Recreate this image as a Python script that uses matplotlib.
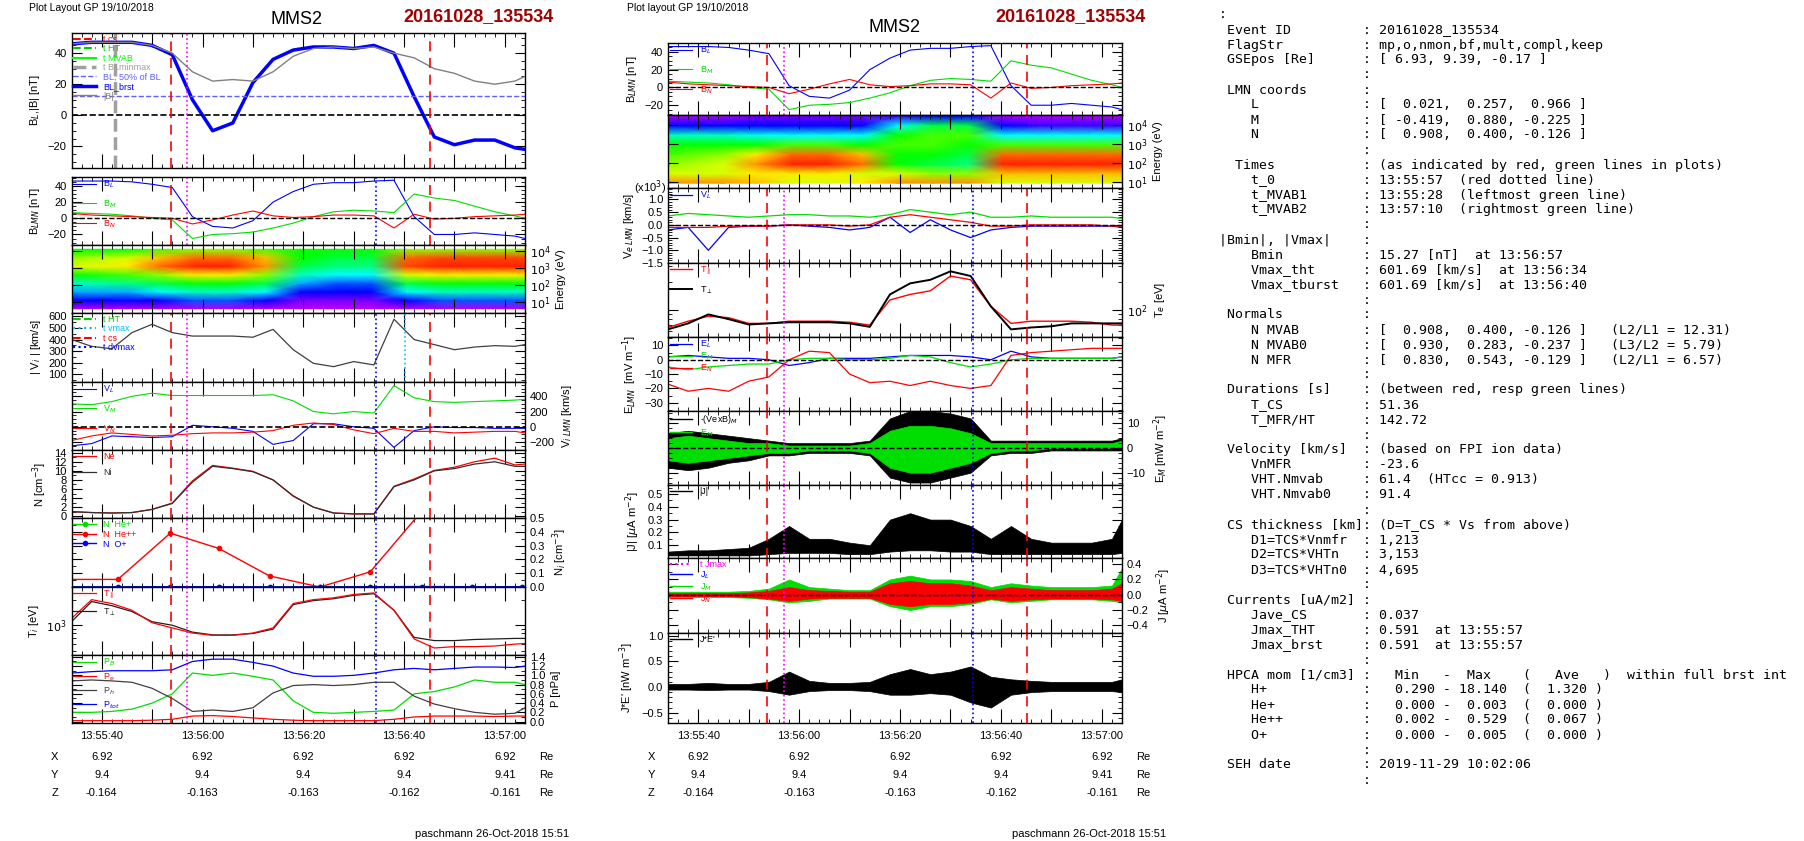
import matplotlib
matplotlib.use("Agg")
import matplotlib.pyplot as plt
import numpy as np
from matplotlib.colors import LinearSegmentedColormap
from matplotlib.lines import Line2D
from matplotlib.ticker import FixedLocator, MultipleLocator, FuncFormatter, NullFormatter

plt.rcParams["font.family"] = ["Liberation Sans", "DejaVu Sans"]
plt.rcParams["font.size"] = 8
plt.rcParams["axes.linewidth"] = 1.0

W, H = 1804, 841

# ---------------- data (seconds after 13:55:00) ----------------
T = [34, 38, 42, 46, 50, 54, 58, 62, 66, 70, 74, 78, 82, 86, 90, 94, 98, 102, 106, 110, 114, 118, 122, 124]

BL_fit = [46, 47, 47, 47, 45, 39, 10, -10, -5, 21, 36, 42, 44, 44, 43, 45, 40, 12, -14, -19, -16, -16, -21, -22]
B_tot = [46, 47, 47, 47, 45, 40, 28, 22, 23, 22, 28, 38, 43, 44, 43, 44, 40, 37, 30, 27, 22, 20, 22, 25]

BL = [46, 46, 46, 45, 42, 38, 2, -10, -12, -3, 20, 33, 42, 44, 44, 46, 47, 2, -20, -20, -18, -20, -22, -25]
BM = [7, 6, 5, 3, 0, -2, -25, -20, -19, -17, -12, -6, 2, 8, 10, 9, 7, 30, 25, 22, 15, 8, 3, 0]
BN = [6, 4, 3, 2, 1, 0, -7, -2, 4, 9, 3, 1, 2, 4, 4, 3, -12, 5, -1, 0, 2, 3, 4, 5]

Vi_abs = [400, 341, 320, 460, 532, 460, 430, 430, 430, 420, 488, 312, 194, 165, 209, 180, 576, 400, 356, 312, 335, 347, 341, 356]
ViL = [-250, -220, -120, -130, -140, -130, 20, 0, -20, -60, -230, -180, 40, 40, 0, -20, -270, -50, 0, -10, -10, -20, -20, -20]
ViM = [300, 290, 330, 400, 440, 410, 410, 410, 410, 410, 420, 340, 200, 170, 200, 180, 540, 380, 330, 320, 330, 340, 350, 360]
ViN = [-180, -120, -80, -100, -120, -110, -90, -80, -80, -70, -50, 20, 50, 30, -40, -90, -20, -60, -60, -80, -70, -60, -60, -80]

Ne = [1.0, 0.8, 0.7, 0.8, 1.5, 2.9, 7.8, 11.2, 10.6, 9.9, 8.0, 4.4, 2.0, 0.7, 0.5, 0.5, 6.6, 8.2, 10.1, 10.8, 12.0, 12.8, 11.3, 11.5]
Ni = [1.0, 0.8, 0.7, 0.8, 1.5, 2.8, 7.5, 11.0, 10.5, 9.8, 8.0, 4.5, 2.0, 0.7, 0.5, 0.5, 6.5, 8.0, 10.0, 10.5, 11.5, 12.0, 11.0, 11.0]

hpca_t = [33.7, 43.2, 53.6, 63.2, 73.3, 83.3, 93.3, 103.5, 113.5, 123.5]
n_hepp = [0.055, 0.055, 0.39, 0.28, 0.08, 0.0, 0.11, 0.55, 0.9, 1.0]
n_hep = [0.002, 0.002, 0.002, 0.002, 0.001, 0.001, 0.002, 0.003, 0.002, 0.002]
n_op = [0.001, 0.001, 0.002, 0.002, 0.001, 0.001, 0.002, 0.003, 0.002, 0.002]

Ti_par = [1200, 2000, 1800, 1500, 1070, 930, 810, 760, 760, 810, 930, 1800, 2000, 2100, 2300, 2400, 1500, 690, 540, 560, 560, 570, 600, 610]
Ti_perp = [1100, 1900, 1700, 1450, 1100, 1000, 830, 770, 770, 800, 900, 1750, 1950, 2050, 2250, 2350, 1500, 720, 660, 660, 680, 690, 700, 700]

P_B = [0.2, 0.2, 0.22, 0.27, 0.4, 0.6, 1.05, 1.0, 1.05, 0.98, 0.9, 0.45, 0.2, 0.18, 0.2, 0.22, 0.25, 0.6, 0.65, 0.75, 0.9, 0.85, 0.85, 0.8]
P_e = [0.02, 0.02, 0.02, 0.02, 0.03, 0.05, 0.12, 0.13, 0.11, 0.08, 0.05, 0.03, 0.02, 0.02, 0.02, 0.02, 0.05, 0.1, 0.12, 0.12, 0.12, 0.11, 0.12, 0.12]
P_h = [0.88, 0.9, 0.88, 0.85, 0.72, 0.5, 0.22, 0.25, 0.22, 0.3, 0.62, 0.78, 0.8, 0.78, 0.8, 0.85, 0.85, 0.55, 0.38, 0.28, 0.2, 0.16, 0.18, 0.3]
P_tot = [1.05, 1.08, 1.1, 1.1, 1.1, 1.12, 1.3, 1.35, 1.35, 1.28, 1.2, 1.05, 0.98, 0.98, 1.0, 1.05, 1.12, 1.15, 1.12, 1.15, 1.18, 1.18, 1.17, 1.2]

spec_t = [34, 45, 51.5, 58.5, 65.5, 72.5, 79.5, 86.5, 93.5, 100.5, 107.5, 114.5, 124]
ion_logE = [0.6, 1.1, 1.6, 2.1, 2.6, 3.1, 3.6, 4.1]
ion_spec = [
    [0.05, 0.05, 0.05, 0.05, 0.05, 0.05, 0.04, 0.04, 0.04, 0.05, 0.05, 0.05, 0.05],
    [0.15, 0.15, 0.15, 0.2, 0.2, 0.15, 0.08, 0.08, 0.08, 0.15, 0.2, 0.2, 0.2],
    [0.25, 0.25, 0.3, 0.35, 0.35, 0.3, 0.15, 0.15, 0.15, 0.3, 0.35, 0.35, 0.35],
    [0.35, 0.4, 0.45, 0.5, 0.5, 0.45, 0.25, 0.2, 0.2, 0.45, 0.5, 0.5, 0.5],
    [0.5, 0.55, 0.6, 0.7, 0.7, 0.6, 0.35, 0.3, 0.3, 0.65, 0.7, 0.7, 0.7],
    [0.65, 0.7, 0.85, 0.95, 0.95, 0.8, 0.45, 0.4, 0.4, 0.9, 0.95, 0.95, 0.95],
    [0.6, 0.65, 0.75, 0.85, 0.85, 0.75, 0.5, 0.45, 0.45, 0.85, 0.9, 0.9, 0.9],
    [0.5, 0.5, 0.55, 0.6, 0.6, 0.55, 0.5, 0.5, 0.5, 0.6, 0.6, 0.6, 0.6],
]
ele_logE = [0.95, 1.45, 1.95, 2.45, 2.95, 3.45, 3.95, 4.45]
ele_spec = [
    [0.8, 0.8, 0.75, 0.65, 0.65, 0.7, 0.8, 0.8, 0.8, 0.65, 0.65, 0.65, 0.65],
    [0.65, 0.65, 0.7, 0.7, 0.7, 0.65, 0.65, 0.6, 0.6, 0.75, 0.75, 0.75, 0.75],
    [0.6, 0.65, 0.8, 0.95, 0.95, 0.85, 0.5, 0.45, 0.4, 0.95, 0.95, 0.95, 0.95],
    [0.55, 0.6, 0.7, 0.85, 0.85, 0.75, 0.5, 0.5, 0.45, 0.85, 0.85, 0.85, 0.85],
    [0.5, 0.5, 0.5, 0.55, 0.55, 0.5, 0.55, 0.55, 0.5, 0.55, 0.55, 0.55, 0.55],
    [0.35, 0.35, 0.32, 0.3, 0.3, 0.3, 0.5, 0.55, 0.55, 0.3, 0.3, 0.3, 0.3],
    [0.15, 0.15, 0.15, 0.15, 0.15, 0.15, 0.3, 0.45, 0.45, 0.15, 0.12, 0.12, 0.12],
    [0.05, 0.05, 0.08, 0.08, 0.08, 0.08, 0.12, 0.15, 0.15, 0.05, 0.05, 0.05, 0.05],
]

VeL = [-0.2, -0.1, -1.0, -0.1, -0.05, -0.05, 0, -0.05, -0.1, -0.2, -0.1, 0.3, -0.3, 0.2, -0.2, -0.5, -0.2, -0.1, -0.05, -0.05, -0.05, -0.05, -0.05, -0.1]
VeM = [0.35, 0.45, 0.4, 0.35, 0.3, 0.35, 0.4, 0.4, 0.35, 0.35, 0.3, 0.4, 0.6, 0.5, 0.4, 0.5, 0.3, 0.3, 0.35, 0.3, 0.3, 0.3, 0.3, 0.25]
VeN = [-0.1, -0.1, -0.1, -0.05, -0.05, -0.05, 0, 0, 0, -0.05, 0, 0.3, 0.4, 0.3, 0.2, 0.1, -0.05, -0.05, 0, 0, 0, 0, -0.05, -0.05]

Te_par = [65, 76, 86, 83, 72, 72, 76, 76, 76, 74, 69, 129, 148, 162, 234, 213, 110, 72, 76, 76, 76, 74, 69, 69]
Te_perp = [62, 72, 90, 80, 70, 72, 74, 74, 74, 72, 66, 148, 195, 213, 263, 234, 110, 62, 65, 67, 72, 72, 72, 72]

EL = [2, 3, 2, 1, 1, 0, -4, -2, 1, 1, 1, 2, 3, 3, 3, 2, 0, 6, 2, 1, 1, 1, 1, 2]
EM = [-5, -7, -5, -4, -3, -3, 0, 1, 1, 0, 0, 1, 3, 2, -2, -5, -3, 0, 1, 1, 1, 1, 1, 2]
EN = [-17, -22, -20, -22, -15, -12, 0, 6, 5, -10, -16, -15, -18, -15, -18, -20, -18, 3, 5, 6, 7, 8, 8, 8]

vxb_lo = [-8, -9, -8, -6, -5, -3, -3, -2, -2, -2, -3, -12, -14, -14, -12, -10, -3, -2, -2, -1, -1, -1, -1, -1]
vxb_hi = [6, 7, 6, 5, 4, 3, 2, 2, 2, 2, 3, 12, 15, 15, 14, 12, 3, 3, 3, 3, 3, 3, 3, 4]
em_lo = [-5, -6, -5, -4, -3, -2, -2, -1, -1, -1, -2, -8, -10, -10, -8, -6, -2, -1, -1, 0, 0, 0, 0, 0]
em_hi = [4, 5, 4, 3, 2, 2, 1, 1, 1, 1, 2, 7, 9, 9, 8, 6, 2, 2, 2, 2, 2, 2, 2, 3]

Jabs_lo = [0.02, 0.02, 0.02, 0.02, 0.02, 0.03, 0.04, 0.04, 0.04, 0.03, 0.03, 0.05, 0.06, 0.06, 0.05, 0.05, 0.03, 0.03, 0.03, 0.03, 0.03, 0.03, 0.03, 0.04]
Jabs_hi = [0.05, 0.06, 0.06, 0.07, 0.08, 0.15, 0.25, 0.15, 0.15, 0.12, 0.1, 0.3, 0.35, 0.3, 0.3, 0.25, 0.15, 0.25, 0.15, 0.12, 0.12, 0.12, 0.15, 0.3]
Jg_lo = [-0.03, -0.03, -0.03, -0.03, -0.04, -0.06, -0.1, -0.08, -0.05, -0.05, -0.05, -0.15, -0.2, -0.15, -0.15, -0.12, -0.06, -0.1, -0.08, -0.06, -0.06, -0.06, -0.08, -0.1]
Jg_hi = [0.04, 0.04, 0.04, 0.04, 0.05, 0.08, 0.2, 0.1, 0.08, 0.06, 0.06, 0.2, 0.25, 0.2, 0.2, 0.18, 0.1, 0.15, 0.12, 0.1, 0.1, 0.1, 0.12, 0.35]
Jr_lo = [-0.02, -0.02, -0.02, -0.02, -0.03, -0.05, -0.08, -0.05, -0.04, -0.04, -0.04, -0.12, -0.15, -0.12, -0.12, -0.1, -0.05, -0.08, -0.06, -0.05, -0.05, -0.05, -0.06, -0.08]
Jr_hi = [0.02, 0.02, 0.02, 0.02, 0.03, 0.05, 0.1, 0.06, 0.05, 0.04, 0.04, 0.15, 0.18, 0.15, 0.15, 0.12, 0.06, 0.1, 0.08, 0.06, 0.06, 0.06, 0.08, 0.15]

JE_lo = [-0.05, -0.05, -0.06, -0.05, -0.05, -0.08, -0.15, -0.08, -0.06, -0.06, -0.08, -0.15, -0.15, -0.12, -0.15, -0.3, -0.4, -0.15, -0.1, -0.08, -0.08, -0.08, -0.08, -0.1]
JE_hi = [0.06, 0.06, 0.08, 0.06, 0.06, 0.1, 0.3, 0.12, 0.08, 0.08, 0.1, 0.25, 0.35, 0.25, 0.3, 0.4, 0.2, 0.15, 0.12, 0.1, 0.1, 0.1, 0.1, 0.15]

t_cs = [53.7, 105.1]
t_0 = 57.0
t_dvmax = 94.4
t_vmax = 100.2
t_blminmax = 42.6
tick_times = [40, 60, 80, 100, 120]
pos_X = ["6.92", "6.92", "6.92", "6.92", "6.92"]
pos_Y = ["9.4", "9.4", "9.4", "9.4", "9.41"]
pos_Z = ["-0.164", "-0.163", "-0.163", "-0.162", "-0.161"]

info_lines = [
    (" Event ID", "20161028_135534"),
    (" FlagStr", "mp,o,nmon,bf,mult,compl,keep"),
    (" GSEpos [Re]", "[ 6.93, 9.39, -0.17 ]"),
    ("", ""),
    (" LMN coords", ""),
    ("    L", "[  0.021,  0.257,  0.966 ]"),
    ("    M", "[ -0.419,  0.880, -0.225 ]"),
    ("    N", "[  0.908,  0.400, -0.126 ]"),
    ("", ""),
    ("  Times", "(as indicated by red, green lines in plots)"),
    ("    t_0", "13:55:57  (red dotted line)"),
    ("    t_MVAB1", "13:55:28  (leftmost green line)"),
    ("    t_MVAB2", "13:57:10  (rightmost green line)"),
    ("", ""),
    ("|Bmin|, |Vmax|", ""),
    ("    Bmin", "15.27 [nT]  at 13:56:57"),
    ("    Vmax_tht", "601.69 [km/s]  at 13:56:34"),
    ("    Vmax_tburst", "601.69 [km/s]  at 13:56:40"),
    ("", ""),
    (" Normals", ""),
    ("    N MVAB", "[  0.908,  0.400, -0.126 ]   (L2/L1 = 12.31)"),
    ("    N MVAB0", "[  0.930,  0.283, -0.237 ]   (L3/L2 = 5.79)"),
    ("    N MFR", "[  0.830,  0.543, -0.129 ]   (L2/L1 = 6.57)"),
    ("", ""),
    (" Durations [s]", "(between red, resp green lines)"),
    ("    T_CS", "51.36"),
    ("    T_MFR/HT", "142.72"),
    ("", ""),
    (" Velocity [km/s]", "(based on FPI ion data)"),
    ("    VnMFR", "-23.6"),
    ("    VHT.Nmvab", "61.4  (HTcc = 0.913)"),
    ("    VHT.Nmvab0", "91.4"),
    ("", ""),
    (" CS thickness [km]", "(D=T_CS * Vs from above)"),
    ("    D1=TCS*Vnmfr", "1,213"),
    ("    D2=TCS*VHTn", "3,153"),
    ("    D3=TCS*VHTn0", "4,695"),
    ("", ""),
    (" Currents [uA/m2]", ""),
    ("    Jave_CS", "0.037"),
    ("    Jmax_THT", "0.591  at 13:55:57"),
    ("    Jmax_brst", "0.591  at 13:55:57"),
    ("", ""),
    (" HPCA mom [1/cm3]", "  Min   -  Max    (   Ave   )  within full brst int"),
    ("    H+", "  0.290 - 18.140  (  1.320 )"),
    ("    He+", "  0.000 -  0.003  (  0.000 )"),
    ("    He++", "  0.002 -  0.529  (  0.067 )"),
    ("    O+", "  0.000 -  0.005  (  0.000 )"),
    ("", ""),
    (" SEH date", "2019-11-29 10:02:06"),
    ("", ""),
]

# ---------------- helpers ----------------
fig = plt.figure(figsize=(W / 100, H / 100), dpi=100)
fig.patch.set_facecolor("white")

spec_cmap = LinearSegmentedColormap.from_list(
    "rainbow_idl",
    [(0, "#ff00ff"), (0.15, "#0000ff"), (0.3, "#00ffff"), (0.5, "#00ff00"),
     (0.68, "#ffff00"), (0.82, "#ff8000"), (1, "#ff0000")],
)


def time_label(t, pos=None):
    t = int(round(t))
    if t % 20:
        return ""
    return f"13:{55 + t // 60}:{t % 60:02d}"


def panel(x0, x1, y0, y1):
    ax = fig.add_axes([x0 / W, 1 - y1 / H, (x1 - x0) / W, (y1 - y0) / H])
    ax.set_xlim(34, 124)
    ax.xaxis.set_major_locator(MultipleLocator(10))
    ax.xaxis.set_minor_locator(MultipleLocator(2))
    ax.tick_params(which="both", direction="in", top=True, right=True, labelsize=8)
    ax.tick_params(which="major", length=7)
    ax.tick_params(which="minor", length=3)
    ax.tick_params(axis="x", which="major", length=10)
    ax.set_xticklabels([])
    return ax


def right_axis(ax):
    ax.yaxis.tick_right()
    ax.yaxis.set_label_position("right")
    ax.tick_params(which="both", left=True, right=True)


def marks(ax, blue=True, magenta=True):
    for t in t_cs:
        ax.axvline(t, color="red", ls=(0, (6, 4)), lw=1.2)
    if magenta:
        ax.axvline(t_0, color="magenta", ls=":", lw=1.2)
    if blue:
        ax.axvline(t_dvmax, color="blue", ls=":", lw=1.2)


def small_legend(ax, **kw):
    leg = ax.legend(loc="upper left", fontsize=6.5, frameon=False, handlelength=2.5,
                    borderaxespad=0.1, borderpad=0.1, labelcolor="linecolor", **kw)
    return leg


def line_handle(color, label):
    return Line2D([], [], color=color, lw=1, label=label)


def log_ticks(ax, value, text):
    ax.set_yticks([value])
    ax.set_yticklabels([text])
    ax.yaxis.set_minor_formatter(NullFormatter())


def spectrogram(ax, logE, values, ylim):
    ax.pcolormesh(spec_t, logE, np.array(values), cmap=spec_cmap, vmin=0, vmax=1,
                  shading="gouraud")
    ax.set_ylim(*ylim)
    right_axis(ax)
    ax.set_yticks([1, 2, 3, 4])
    ax.set_yticklabels(["$10^1$", "$10^2$", "$10^3$", "$10^4$"])
    ax.yaxis.set_minor_locator(FixedLocator([]))
    ax.set_ylabel("Energy (eV)")


def bottom_axis(ax, x0, x1):
    ax.xaxis.set_major_formatter(FuncFormatter(time_label))
    ax.tick_params(axis="x", labelbottom=True, pad=6)
    for t, xs, ys, zs in zip(tick_times, pos_X, pos_Y, pos_Z):
        xf = (x0 + (t - 34) / 90 * (x1 - x0)) / W
        for val, yp in zip((xs, ys, zs), (757, 775, 793)):
            fig.text(xf, 1 - yp / H, val, ha="center", va="center", fontsize=8)
    for lab, yp in zip("XYZ", (757, 775, 793)):
        fig.text((x0 - 17) / W, 1 - yp / H, lab, ha="center", va="center", fontsize=8)
        fig.text((x1 + 21) / W, 1 - yp / H, "Re", ha="center", va="center", fontsize=8)
    fig.text((x1 - 33) / W, 1 - 834 / H, "paschmann 26-Oct-2018 15:51", ha="center",
             va="center", fontsize=8)


# ================= left column =================
LX0, LX1 = 71.5, 525
fig.text(29 / W, 1 - 8 / H, "Plot Layout GP 19/10/2018", fontsize=7.5, va="center")
fig.text(297 / W, 1 - 20 / H, "MMS2", fontsize=13, ha="center", va="center")
fig.text(478 / W, 1 - 17 / H, "20161028_135534", fontsize=13, ha="center", va="center",
         color="#a00000", fontweight="bold")

ax = panel(LX0, LX1, 33, 168)
ax.plot(T, BL_fit, color="blue", lw=2.5, label="BL_brst")
ax.plot(T, B_tot, color="gray", lw=1, label="|B|")
ax.axhline(12.5, color="#6060ff", ls="--", lw=1, label="BL, 50% of BL")
ax.axhline(0, color="black", ls="--", lw=1.2)
ax.axvline(t_blminmax, color="#a0a0a0", ls="--", lw=2.5, label="t BLminmax")
for t in t_cs:
    ax.axvline(t, color="red", ls=(0, (6, 4)), lw=1.2)
ax.axvline(t_0, color="magenta", ls=":", lw=1.2)
ax.plot([], [], color="red", ls="--", label="t cs")
ax.plot([], [], color="#00cc00", ls="--", label="t HT")
ax.plot([], [], color="#00ff00", label="t MVAB")
h, l = ax.get_legend_handles_labels()
order = [l.index(k) for k in ["t cs", "t HT", "t MVAB", "t BLminmax", "BL, 50% of BL", "BL_brst", "|B|"]]
small_legend(ax, handles=[h[i] for i in order], labels=[l[i] for i in order], labelspacing=0.05)
ax.set_ylim(-34, 53)
ax.set_yticks([-20, 0, 20, 40])
ax.yaxis.set_minor_locator(MultipleLocator(5))
ax.set_ylabel("B$_L$,|B| [nT]")

ax = panel(LX0, LX1, 177, 245)
ax.plot(T, BL, color="blue", lw=0.8, label="B$_L$")
ax.plot(T, BM, color="#00dd00", lw=0.8, label="B$_M$")
ax.plot(T, BN, color="red", lw=0.8, label="B$_N$")
ax.axhline(0, color="black", ls="--", lw=1)
marks(ax)
small_legend(ax, labelspacing=0.9)
ax.set_ylim(-33, 51)
ax.set_yticks([-20, 0, 20, 40])
ax.yaxis.set_minor_locator(MultipleLocator(5))
ax.set_ylabel("B$_{LMN}$ [nT]")

ax = panel(LX0, LX1, 245, 313)
spectrogram(ax, ion_logE, ion_spec, (0.35, 4.35))

ax = panel(LX0, LX1, 313, 382)
ax.plot(T, Vi_abs, color="#404040", lw=0.9)
marks(ax)
ax.axvline(t_vmax, color="#00bfff", ls=":", lw=1.2)
ax.plot([], [], color="#00cc00", ls="--", label="t HT")
ax.plot([], [], color="#00bfff", ls=":", label="t vmax")
ax.plot([], [], color="red", ls="--", label="t cs")
ax.plot([], [], color="blue", ls=":", label="t dvmax")
small_legend(ax, labelspacing=0.05)
ax.set_ylim(32, 630)
ax.set_yticks([100, 200, 300, 400, 500, 600])
ax.yaxis.set_minor_locator(MultipleLocator(50))
ax.set_ylabel("| V$_i$ | [km/s]")

ax = panel(LX0, LX1, 382, 450)
ax.plot(T, ViL, color="blue", lw=0.8, label="V$_L$")
ax.plot(T, ViM, color="#00dd00", lw=0.8, label="V$_M$")
ax.plot(T, ViN, color="red", lw=0.8, label="V$_N$")
ax.axhline(0, color="black", ls="--", lw=1.2)
marks(ax)
small_legend(ax, labelspacing=0.9)
ax.set_ylim(-304, 587)
right_axis(ax)
ax.set_yticks([-200, 0, 200, 400])
ax.yaxis.set_minor_locator(MultipleLocator(50))
ax.set_ylabel("V$_{i\\ LMN}$ [km/s]")

ax = panel(LX0, LX1, 450, 518)
ax.plot(T, Ne, color="red", lw=0.9, label="Ne")
ax.plot(T, Ni, color="#303030", lw=0.9, label="Ni")
marks(ax)
small_legend(ax, labelspacing=0.8)
ax.set_ylim(-0.4, 14.6)
ax.set_yticks(range(0, 15, 2))
ax.yaxis.set_minor_locator(MultipleLocator(1))
ax.set_ylabel("N [cm$^{-3}$]")

ax = panel(LX0, LX1, 518, 587)
ax.plot(hpca_t, n_hep, color="#00dd00", marker="o", ms=3, lw=1, label="N  He+")
ax.plot(hpca_t, n_hepp, color="red", marker="o", ms=3, lw=1, label="N  He++")
ax.plot(hpca_t, n_op, color="blue", marker="o", ms=3, lw=1, label="N  O+")
marks(ax)
small_legend(ax, labelspacing=0.1)
ax.set_ylim(0, 0.5)
right_axis(ax)
ax.set_yticks([0, 0.1, 0.2, 0.3, 0.4, 0.5])
ax.yaxis.set_minor_locator(MultipleLocator(0.05))
ax.set_ylabel("N$_i$ [cm$^{-3}$]")

ax = panel(LX0, LX1, 587, 655)
ax.semilogy(T, Ti_perp, color="#202020", lw=0.9, label="T$_\\perp$")
ax.semilogy(T, Ti_par, color="red", lw=0.9, label="T$_\\parallel$")
marks(ax)
h, l = ax.get_legend_handles_labels()
small_legend(ax, handles=h[::-1], labels=l[::-1], labelspacing=0.6)
ax.set_ylim(10 ** 2.65, 10 ** 3.45)
log_ticks(ax, 1000, "$10^3$")
ax.set_ylabel("T$_i$ [eV]")

ax = panel(LX0, LX1, 655, 723)
ax.plot(T, P_B, color="#00dd00", lw=0.9, label="P$_B$")
ax.plot(T, P_e, color="red", lw=0.9, label="P$_e$")
ax.plot(T, P_h, color="#404040", lw=0.9, label="P$_h$")
ax.plot(T, P_tot, color="blue", lw=0.9, label="P$_{tot}$")
marks(ax)
small_legend(ax, labelspacing=0.3)
ax.set_ylim(-0.03, 1.44)
right_axis(ax)
ax.set_yticks(np.arange(0, 1.41, 0.2))
ax.yaxis.set_minor_locator(MultipleLocator(0.1))
ax.set_ylabel("P [nPa]")
bottom_axis(ax, LX0, LX1)

# ================= middle column =================
MX0, MX1 = 668, 1122
fig.text(627 / W, 1 - 8 / H, "Plot layout GP 19/10/2018", fontsize=7.5, va="center")
fig.text(895 / W, 1 - 28 / H, "MMS2", fontsize=13, ha="center", va="center")
fig.text(1071 / W, 1 - 17 / H, "20161028_135534", fontsize=13, ha="center", va="center",
         color="#a00000", fontweight="bold")

ax = panel(MX0, MX1, 43, 115)
ax.plot(T, BL, color="blue", lw=0.8, label="B$_L$")
ax.plot(T, BM, color="#00dd00", lw=0.8, label="B$_M$")
ax.plot(T, BN, color="red", lw=0.8, label="B$_N$")
ax.axhline(0, color="black", ls="--", lw=1)
marks(ax)
small_legend(ax, labelspacing=0.9)
ax.set_ylim(-31, 50)
ax.set_yticks([-20, 0, 20, 40])
ax.yaxis.set_minor_locator(MultipleLocator(5))
ax.set_ylabel("B$_{LMN}$ [nT]")

ax = panel(MX0, MX1, 115, 188)
spectrogram(ax, ele_logE, ele_spec, (0.7, 4.5))

ax = panel(MX0, MX1, 188, 263)
ax.plot(T, VeL, color="blue", lw=0.9, label="V$_L$")
ax.plot(T, VeM, color="#00dd00", lw=0.9, label="V$_M$")
ax.plot(T, VeN, color="red", lw=0.9, label="V$_N$")
ax.axhline(0, color="black", ls="--", lw=1)
marks(ax)
small_legend(ax, handles=ax.get_lines()[:1], labelspacing=0.2)
ax.set_ylim(-1.5, 1.45)
ax.set_yticks([-1.5, -1.0, -0.5, 0.0, 0.5, 1.0])
ax.yaxis.set_minor_locator(MultipleLocator(0.1))
ax.set_ylabel("V$_{e\\ LMN}$ [km/s]")
ax.text(-0.005, 1.0, "(x10$^3$)", transform=ax.transAxes, ha="right", va="center", fontsize=8)

ax = panel(MX0, MX1, 263, 337)
ax.semilogy(T, Te_par, color="red", lw=1, label="T$_\\parallel$")
ax.semilogy(T, Te_perp, color="black", lw=1.4, label="T$_\\perp$")
marks(ax)
small_legend(ax, labelspacing=0.8)
ax.set_ylim(10 ** 1.71, 10 ** 2.51)
right_axis(ax)
log_ticks(ax, 100, "$10^2$")
ax.set_ylabel("T$_e$ [eV]")

ax = panel(MX0, MX1, 337, 411)
ax.plot(T, EL, color="blue", lw=0.9, label="E$_L$")
ax.plot(T, EM, color="#00dd00", lw=0.9, label="E$_M$")
ax.plot(T, EN, color="red", lw=0.9, label="E$_N$")
ax.axhline(0, color="black", ls="--", lw=1)
marks(ax)
small_legend(ax, labelspacing=0.05)
ax.set_ylim(-35.8, 15.9)
ax.set_yticks([-30, -20, -10, 0, 10])
ax.yaxis.set_minor_locator(MultipleLocator(5))
ax.set_ylabel("E$_{LMN}$  [mV m$^{-1}$]")

ax = panel(MX0, MX1, 411, 485)
ax.fill_between(T, vxb_lo, vxb_hi, color="black", lw=0.5)
ax.fill_between(T, em_lo, em_hi, color="#00dd00", lw=0.5)
ax.axhline(0, color="black", ls="--", lw=1)
marks(ax)
small_legend(ax, handles=[line_handle("black", "-(VexB)$_M$"), line_handle("#00dd00", "E$_M$")],
             labelspacing=0.2)
ax.set_ylim(-15, 15)
right_axis(ax)
ax.set_yticks([-10, 0, 10])
ax.yaxis.set_minor_locator(MultipleLocator(2))
ax.set_ylabel("E$_M$ [mW m$^{-2}$]")

ax = panel(MX0, MX1, 485, 558)
ax.fill_between(T, Jabs_lo, Jabs_hi, color="black", lw=0.5)
marks(ax)
small_legend(ax, handles=[line_handle("black", "|J|")])
ax.set_ylim(0, 0.57)
ax.set_yticks([0.1, 0.2, 0.3, 0.4, 0.5])
ax.yaxis.set_minor_locator(MultipleLocator(0.05))
ax.set_ylabel("|J| [$\\mu$A m$^{-2}$]")

ax = panel(MX0, MX1, 558, 633)
ax.fill_between(T, Jg_lo, Jg_hi, color="#00dd00", lw=0.5)
ax.fill_between(T, Jr_lo, Jr_hi, color="red", lw=0.5)
ax.plot(T, [0] * len(T), color="blue", lw=0.8)
ax.axhline(0, color="black", ls="--", lw=1)
marks(ax)
small_legend(ax, handles=[Line2D([], [], color="magenta", ls=":", label="t Jmax"),
                          line_handle("blue", "J$_L$"), line_handle("#00dd00", "J$_M$"),
                          line_handle("red", "J$_N$")], labelspacing=0.05)
ax.set_ylim(-0.5, 0.48)
right_axis(ax)
ax.set_yticks([-0.4, -0.2, 0.0, 0.2, 0.4])
ax.yaxis.set_minor_locator(MultipleLocator(0.1))
ax.set_ylabel("J [$\\mu$A m$^{-2}$]")

ax = panel(MX0, MX1, 633, 723)
ax.fill_between(T, JE_lo, JE_hi, color="black", lw=0.5)
marks(ax)
small_legend(ax, handles=[line_handle("black", "J*E'")])
ax.set_ylim(-0.7, 1.05)
ax.set_yticks([-0.5, 0.0, 0.5, 1.0])
ax.yaxis.set_minor_locator(MultipleLocator(0.1))
ax.set_ylabel("J*E' [nW m$^{-3}$]")
bottom_axis(ax, MX0, MX1)

# ================= info text =================
fig.text(1219 / W, 1 - 15 / H, ":", family="DejaVu Sans Mono", fontsize=9.5, va="center")
for i, (key, val) in enumerate(info_lines):
    line = f"{key:<18}: {val}".rstrip()
    fig.text(1219 / W, 1 - (30 + 15 * i) / H, line, family="DejaVu Sans Mono",
             fontsize=9.5, va="center")

fig.savefig("out.png", dpi=100)
